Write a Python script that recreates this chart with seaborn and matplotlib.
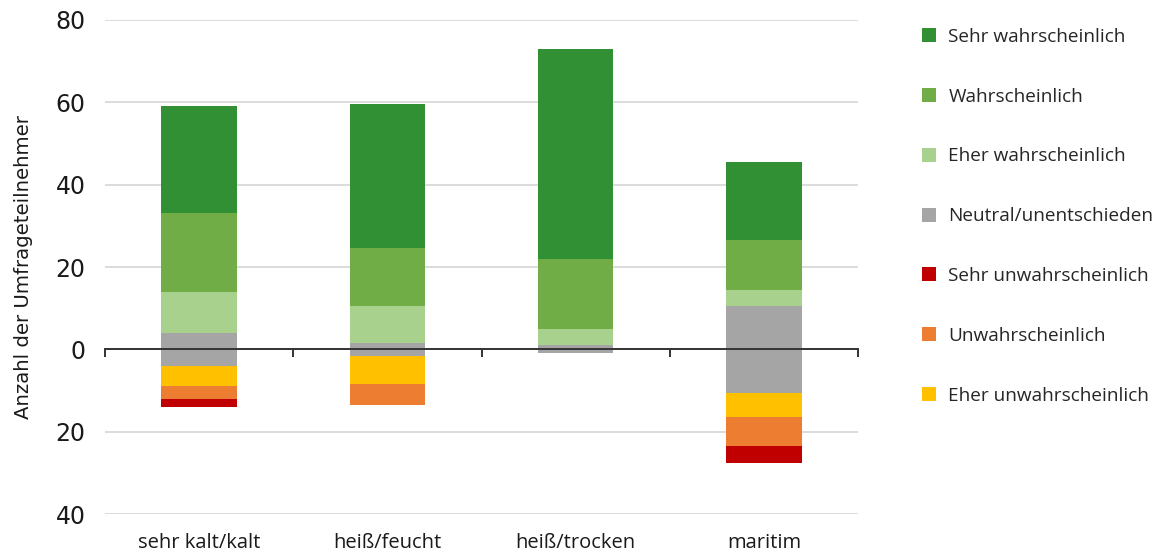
import matplotlib
matplotlib.use("Agg")
import matplotlib.pyplot as plt
from matplotlib.lines import Line2D
from matplotlib.ticker import FuncFormatter
import numpy as np
import seaborn as sns

# Survey answers per climate zone (number of respondents)
categories = ["sehr kalt/kalt", "heiß/feucht", "heiß/trocken", "maritim"]
sehr_wahrscheinlich = [26, 35, 51, 19]
wahrscheinlich = [19, 14, 17, 12]
eher_wahrscheinlich = [10, 9, 4, 4]
neutral = [8, 3, 2, 21]
sehr_unwahrscheinlich = [2, 0, 0, 4]
unwahrscheinlich = [3, 5, 0, 7]
eher_unwahrscheinlich = [5, 7, 0, 6]

legend_labels = ["Sehr wahrscheinlich", "Wahrscheinlich", "Eher wahrscheinlich",
                 "Neutral/unentschieden", "Sehr unwahrscheinlich",
                 "Unwahrscheinlich", "Eher unwahrscheinlich"]
colors = {
    "Sehr wahrscheinlich": "#319034",
    "Wahrscheinlich": "#70ad47",
    "Eher wahrscheinlich": "#a9d18e",
    "Neutral/unentschieden": "#a5a5a5",
    "Sehr unwahrscheinlich": "#c00000",
    "Unwahrscheinlich": "#ed7d31",
    "Eher unwahrscheinlich": "#ffc000",
}

sns.set_theme(style="white")
plt.rcParams["font.family"] = ["Open Sans", "DejaVu Sans"]

fig = plt.figure(figsize=(11.59, 5.54), dpi=100)
ax = fig.add_axes([0.0906, 0.0722, 0.6497, 0.8917])

half_neutral = np.array(neutral) / 2.0
pos1 = half_neutral + np.array(eher_wahrscheinlich)
pos2 = pos1 + np.array(wahrscheinlich)
pos3 = pos2 + np.array(sehr_wahrscheinlich)
neg1 = -(half_neutral + np.array(eher_unwahrscheinlich))
neg2 = neg1 - np.array(unwahrscheinlich)
neg3 = neg2 - np.array(sehr_unwahrscheinlich)

# Stacks drawn from the outside in, each layer covering the inner part of the previous
layers = [
    (pos3, "Sehr wahrscheinlich"),
    (pos2, "Wahrscheinlich"),
    (pos1, "Eher wahrscheinlich"),
    (half_neutral, "Neutral/unentschieden"),
    (neg3, "Sehr unwahrscheinlich"),
    (neg2, "Unwahrscheinlich"),
    (neg1, "Eher unwahrscheinlich"),
    (-half_neutral, "Neutral/unentschieden"),
]
for values, name in layers:
    sns.barplot(x=categories, y=values, color=colors[name], saturation=1,
                width=0.4, errorbar=None, linewidth=0, ax=ax, zorder=3)

ax.set_xlim(-0.5, 3.5)
ax.set_ylim(-40, 80)
ax.set_yticks([-40, -20, 0, 20, 40, 60, 80])
ax.yaxis.set_major_formatter(FuncFormatter(lambda v, p: f"{abs(v):.0f}"))
ax.tick_params(axis="y", length=0, pad=14, labelsize=17, colors="#1a1a1a",
               labelfontfamily="DejaVu Sans")
ax.grid(axis="y", color="#d9d9d9", linewidth=1.3, zorder=0)
ax.grid(axis="x", visible=False)
for side in ["left", "right", "top"]:
    ax.spines[side].set_visible(False)

# Zero line with ticks between the categories
ax.spines["bottom"].set_position(("data", 0))
ax.spines["bottom"].set_color("#333333")
ax.spines["bottom"].set_linewidth(1.4)
ax.spines["bottom"].set_zorder(4)
ax.set_xticks(np.arange(-0.5, 4.0, 1.0))
ax.set_xticklabels([])
ax.tick_params(axis="x", bottom=True, direction="out", length=6, width=1.4,
               color="#333333")

# Category names along the bottom of the plot
sec = ax.secondary_xaxis("bottom")
sec.set_xticks(range(len(categories)), categories)
sec.tick_params(length=0, pad=14, labelsize=14.5, colors="#1a1a1a")
sec.spines["bottom"].set_visible(False)

ax.set_ylabel("Anzahl der Umfrageteilnehmer", fontsize=14.2, color="#1a1a1a",
              family=["DejaVu Sans"], labelpad=16)
ax.set_xlabel("")

handles = [Line2D([], [], marker="s", linestyle="none", markersize=9.5,
                  markerfacecolor=colors[n], markeredgewidth=0)
           for n in legend_labels]
fig.legend(handles, legend_labels, loc="upper left", bbox_to_anchor=(0.7957, 0.950),
           frameon=False, fontsize=13.7, labelspacing=2.2, handlelength=0.76,
           handletextpad=0.62, borderaxespad=0, borderpad=0)

fig.savefig("out.png", dpi=100, facecolor="white")
